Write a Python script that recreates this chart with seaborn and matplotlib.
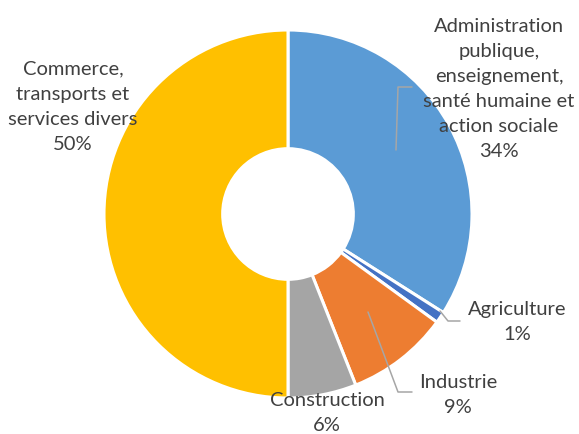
import matplotlib
matplotlib.use("Agg")
import matplotlib.pyplot as plt
import seaborn as sns

# ---- data ----
categories = ["Administration\npublique,\nenseignement,\nsanté humaine et\naction sociale",
              "Agriculture", "Industrie", "Construction",
              "Commerce,\ntransports et\nservices divers"]
shares = [34, 1, 9, 6, 50]
colors = ["#5B9BD5", "#4472C4", "#ED7D31", "#A5A5A5", "#FFC000"]

# label centres and leader lines (pixels in the 579x434 image)
label_px = [(499, 89), (517, 322), (458, 395), (327, 413), (73, 107)]
leaders_px = [
    [(396, 150), (398, 87), (412, 87)],
    [(440, 311), (448, 321), (460, 321)],
    [(368, 312), (398, 392), (412, 392)],
    None,
    None,
]

sns.set_theme(style="white")
plt.rcParams["font.family"] = ["Lato", "DejaVu Sans"]

W, H = 579, 434
CX, CY, R = 288, 214, 184

fig = plt.figure(figsize=(W / 100, H / 100), dpi=100)
ax = fig.add_axes([(CX - R) / W, (H - CY - R) / H, 2 * R / W, 2 * R / H])

ax.pie(shares, colors=colors, startangle=90, counterclock=False, radius=1,
       wedgeprops=dict(width=0.645, edgecolor="white", linewidth=2.2))
ax.set_xlim(-1, 1)
ax.set_ylim(-1, 1)
ax.set_aspect("equal")
ax.axis("off")


def to_data(p):
    return ((p[0] - CX) / R, (CY - p[1]) / R)


for pts in leaders_px:
    if pts is None:
        continue
    d = [to_data(p) for p in pts]
    ax.plot([q[0] for q in d], [q[1] for q in d], color="#A6A6A6", lw=1.1,
            clip_on=False, zorder=3)

for cat, val, pos in zip(categories, shares, label_px):
    x, y = to_data(pos)
    ax.text(x, y, f"{cat}\n{val}%", ha="center", va="center", fontsize=14.5,
            color="#404040", linespacing=1.58, clip_on=False, zorder=4)

fig.savefig("out.png", dpi=100)
